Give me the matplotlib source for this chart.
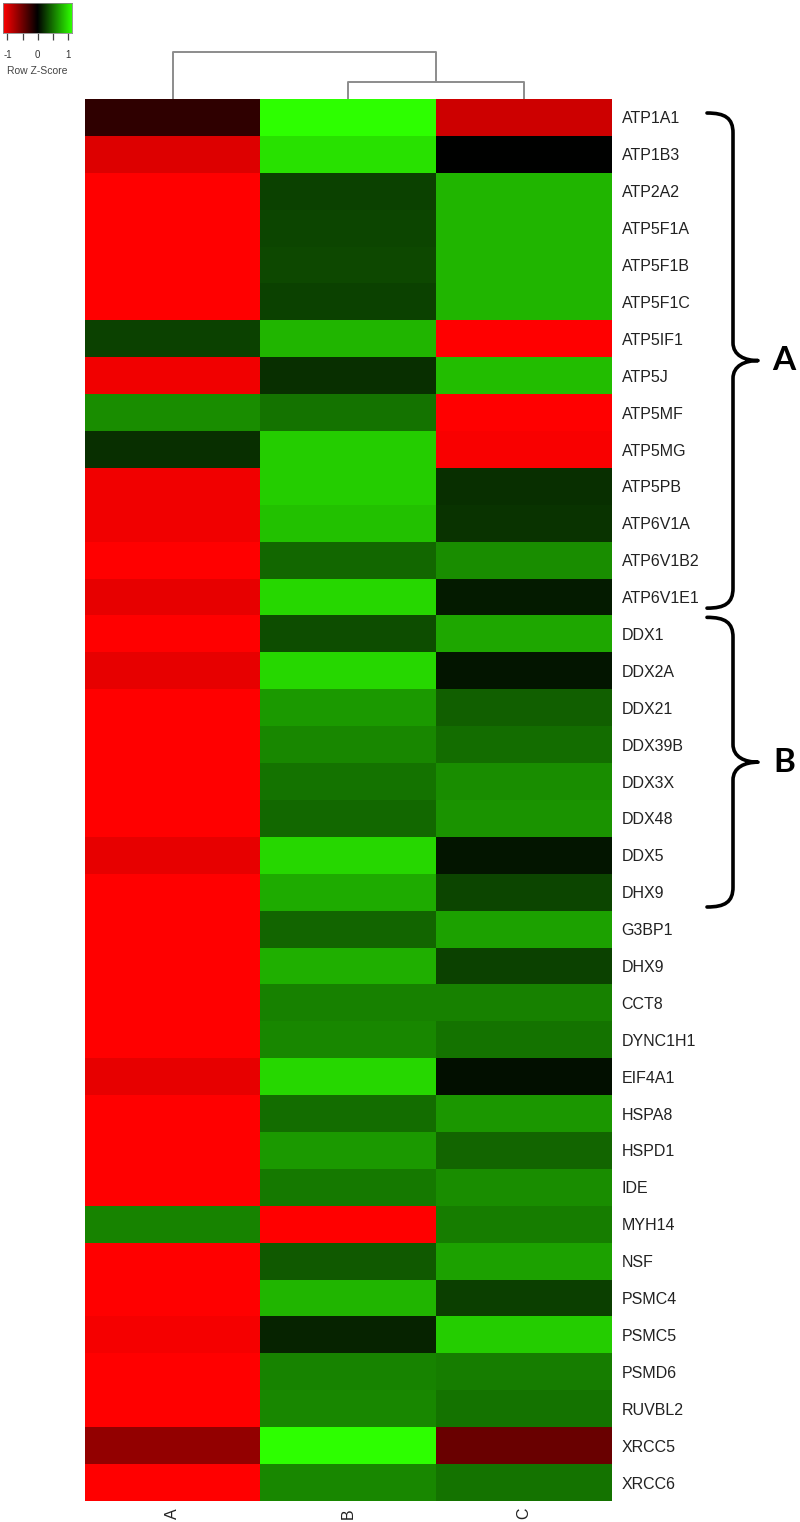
import numpy as np
import matplotlib
matplotlib.use("Agg")
import matplotlib.pyplot as plt
from matplotlib.colors import LinearSegmentedColormap
from matplotlib.path import Path
from matplotlib.patches import PathPatch

# ---------------- data ----------------
genes = ["ATP1A1", "ATP1B3", "ATP2A2", "ATP5F1A", "ATP5F1B", "ATP5F1C", "ATP5IF1",
         "ATP5J", "ATP5MF", "ATP5MG", "ATP5PB", "ATP6V1A", "ATP6V1B2", "ATP6V1E1",
         "DDX1", "DDX2A", "DDX21", "DDX39B", "DDX3X", "DDX48", "DDX5", "DHX9",
         "G3BP1", "DHX9", "CCT8", "DYNC1H1", "EIF4A1", "HSPA8", "HSPD1", "IDE",
         "MYH14", "NSF", "PSMC4", "PSMC5", "PSMD6", "RUVBL2", "XRCC5", "XRCC6"]
samples = ["A", "B", "C"]

z_A = [-0.21, -0.99, -1.15, -1.15, -1.15, -1.15, 0.29, -1.08, 0.63, 0.21,
       -1.08, -1.08, -1.15, -1.04, -1.15, -1.04, -1.15, -1.15, -1.15, -1.15,
       -1.04, -1.15, -1.15, -1.15, -1.15, -1.15, -1.04, -1.15, -1.15, -1.15,
       0.59, -1.15, -1.15, -1.10, -1.15, -1.15, -0.66, -1.15]
z_B = [1.15, 1.01, 0.29, 0.31, 0.33, 0.29, 0.81, 0.21, 0.52, 0.92,
       0.92, 0.87, 0.46, 0.97, 0.35, 0.97, 0.69, 0.61, 0.52, 0.47,
       0.97, 0.77, 0.45, 0.79, 0.58, 0.61, 0.97, 0.49, 0.69, 0.54,
       -1.15, 0.40, 0.81, 0.16, 0.59, 0.61, 1.15, 0.61]
z_C = [-0.92, 0.00, 0.81, 0.81, 0.81, 0.81, -1.15, 0.85, -1.15, -1.12,
       0.21, 0.23, 0.63, 0.12, 0.75, 0.09, 0.43, 0.49, 0.63, 0.66,
       0.09, 0.31, 0.72, 0.29, 0.58, 0.52, 0.07, 0.68, 0.45, 0.63,
       0.56, 0.72, 0.28, 0.92, 0.56, 0.52, -0.47, 0.52]

# column dendrogram: merge heights
merge_BC_height = 0.36
merge_root_height = 1.0

key_ticks = [-1, -0.5, 0, 0.5, 1]
key_labels = ["-1", "", "0", "", "1"]

groups = [("A", 0, 13), ("B", 14, 21)]

# ---------------- layout ----------------
W, H = 800, 1522
fig = plt.figure(figsize=(W / 100, H / 100), dpi=100)

def px_axes(x0, y0, x1, y1):
    return fig.add_axes([x0 / W, 1 - y1 / H, (x1 - x0) / W, (y1 - y0) / H])

cmap = LinearSegmentedColormap.from_list(
    "rg", [(1.0, 0.0, 0.0), (0.0, 0.0, 0.0), (0.18, 1.0, 0.0)])
vlim = 1.15

hm_left, hm_top, hm_right, hm_bot = 85, 99, 612, 1501
ax = px_axes(hm_left, hm_top, hm_right, hm_bot)
data = np.column_stack([z_A, z_B, z_C])
nrows = len(genes)
ax.imshow(data, cmap=cmap, vmin=-vlim, vmax=vlim, aspect="auto",
          interpolation="nearest", extent=(0, 3, nrows, 0))
ax.set_xlim(0, 3)
ax.set_ylim(nrows, 0)
ax.yaxis.tick_right()
ax.set_yticks(np.arange(nrows) + 0.5)
ax.set_yticklabels(genes, fontsize=11.5, family="Liberation Sans", color="#222222")
ax.set_xticks(np.arange(3) + 0.5)
ax.set_xticklabels(samples, rotation=90, fontsize=11.5, family="Liberation Sans",
                   color="#222222")
ax.tick_params(axis="both", length=0)
ax.tick_params(axis="y", pad=7)
ax.tick_params(axis="x", pad=5)
for s in ax.spines.values():
    s.set_visible(False)

# ---------------- dendrogram ----------------
dax = px_axes(hm_left, 52, hm_right, hm_top)
dax.set_xlim(0, 3)
dax.set_ylim(0, 1)
dax.axis("off")
xa, xb, xc = 0.5, 1.5, 2.5
xbc = (xb + xc) / 2
lc = dict(color="#8c8c8c", lw=1.4, clip_on=False, solid_capstyle="butt")
dax.plot([xb, xb, xc, xc], [0, merge_BC_height, merge_BC_height, 0], **lc)
dax.plot([xa, xa, xbc, xbc], [0, merge_root_height, merge_root_height, merge_BC_height], **lc)

# ---------------- color key ----------------
kax = px_axes(3, 3, 72, 33)
grad = np.linspace(-vlim, vlim, 256)[None, :]
kax.imshow(grad, cmap=cmap, vmin=-vlim, vmax=vlim, aspect="auto",
           extent=(-vlim, vlim, 0, 1))
kax.set_xlim(-vlim, vlim)
kax.set_yticks([])
kax.set_xticks(key_ticks)
kax.set_xticklabels(key_labels, fontsize=7, family="Liberation Sans", color="#333333")
kax.tick_params(axis="x", length=5, width=0.9, color="#444444", pad=7)
for s in kax.spines.values():
    s.set_linewidth(0.6)
    s.set_color("#888888")
fig.text(37 / W, 1 - 71 / H, "Row Z-Score", ha="center", va="center",
         fontsize=7.5, family="Liberation Sans", color="#444444")

# ---------------- braces ----------------
oax = fig.add_axes([0, 0, 1, 1])
oax.set_xlim(0, W)
oax.set_ylim(H, 0)
oax.axis("off")
rowh = (hm_bot - hm_top) / nrows

def brace(y0, y1, label):
    xe, xs, xt = 707, 733, 758
    ym = (y0 + y1) / 2
    verts = [(xe, y0), (725, y0), (xs, y0 + 5), (xs, y0 + 20),
             (xs, ym - 18),
             (xs, ym - 5), (745, ym), (xt, ym),
             (745, ym), (xs, ym + 5), (xs, ym + 18),
             (xs, y1 - 20),
             (xs, y1 - 5), (725, y1), (xe, y1)]
    codes = [Path.MOVETO, Path.CURVE4, Path.CURVE4, Path.CURVE4,
             Path.LINETO,
             Path.CURVE4, Path.CURVE4, Path.CURVE4,
             Path.CURVE4, Path.CURVE4, Path.CURVE4,
             Path.LINETO,
             Path.CURVE4, Path.CURVE4, Path.CURVE4]
    oax.add_patch(PathPatch(Path(verts, codes), fill=False, lw=2.6,
                            edgecolor="black", capstyle="round", joinstyle="round"))
    oax.text(784, ym, label, ha="center", va="center", fontsize=24,
             fontweight="bold", family="Lato", color="black")

brace(hm_top + 0.38 * rowh, hm_top + (groups[0][2] + 1 - 0.2) * rowh, groups[0][0])
brace(hm_top + (groups[1][1] + 0.05) * rowh, hm_top + (groups[1][2] + 1 - 0.1) * rowh,
      groups[1][0])

fig.savefig("out.png", dpi=100, facecolor="white")
